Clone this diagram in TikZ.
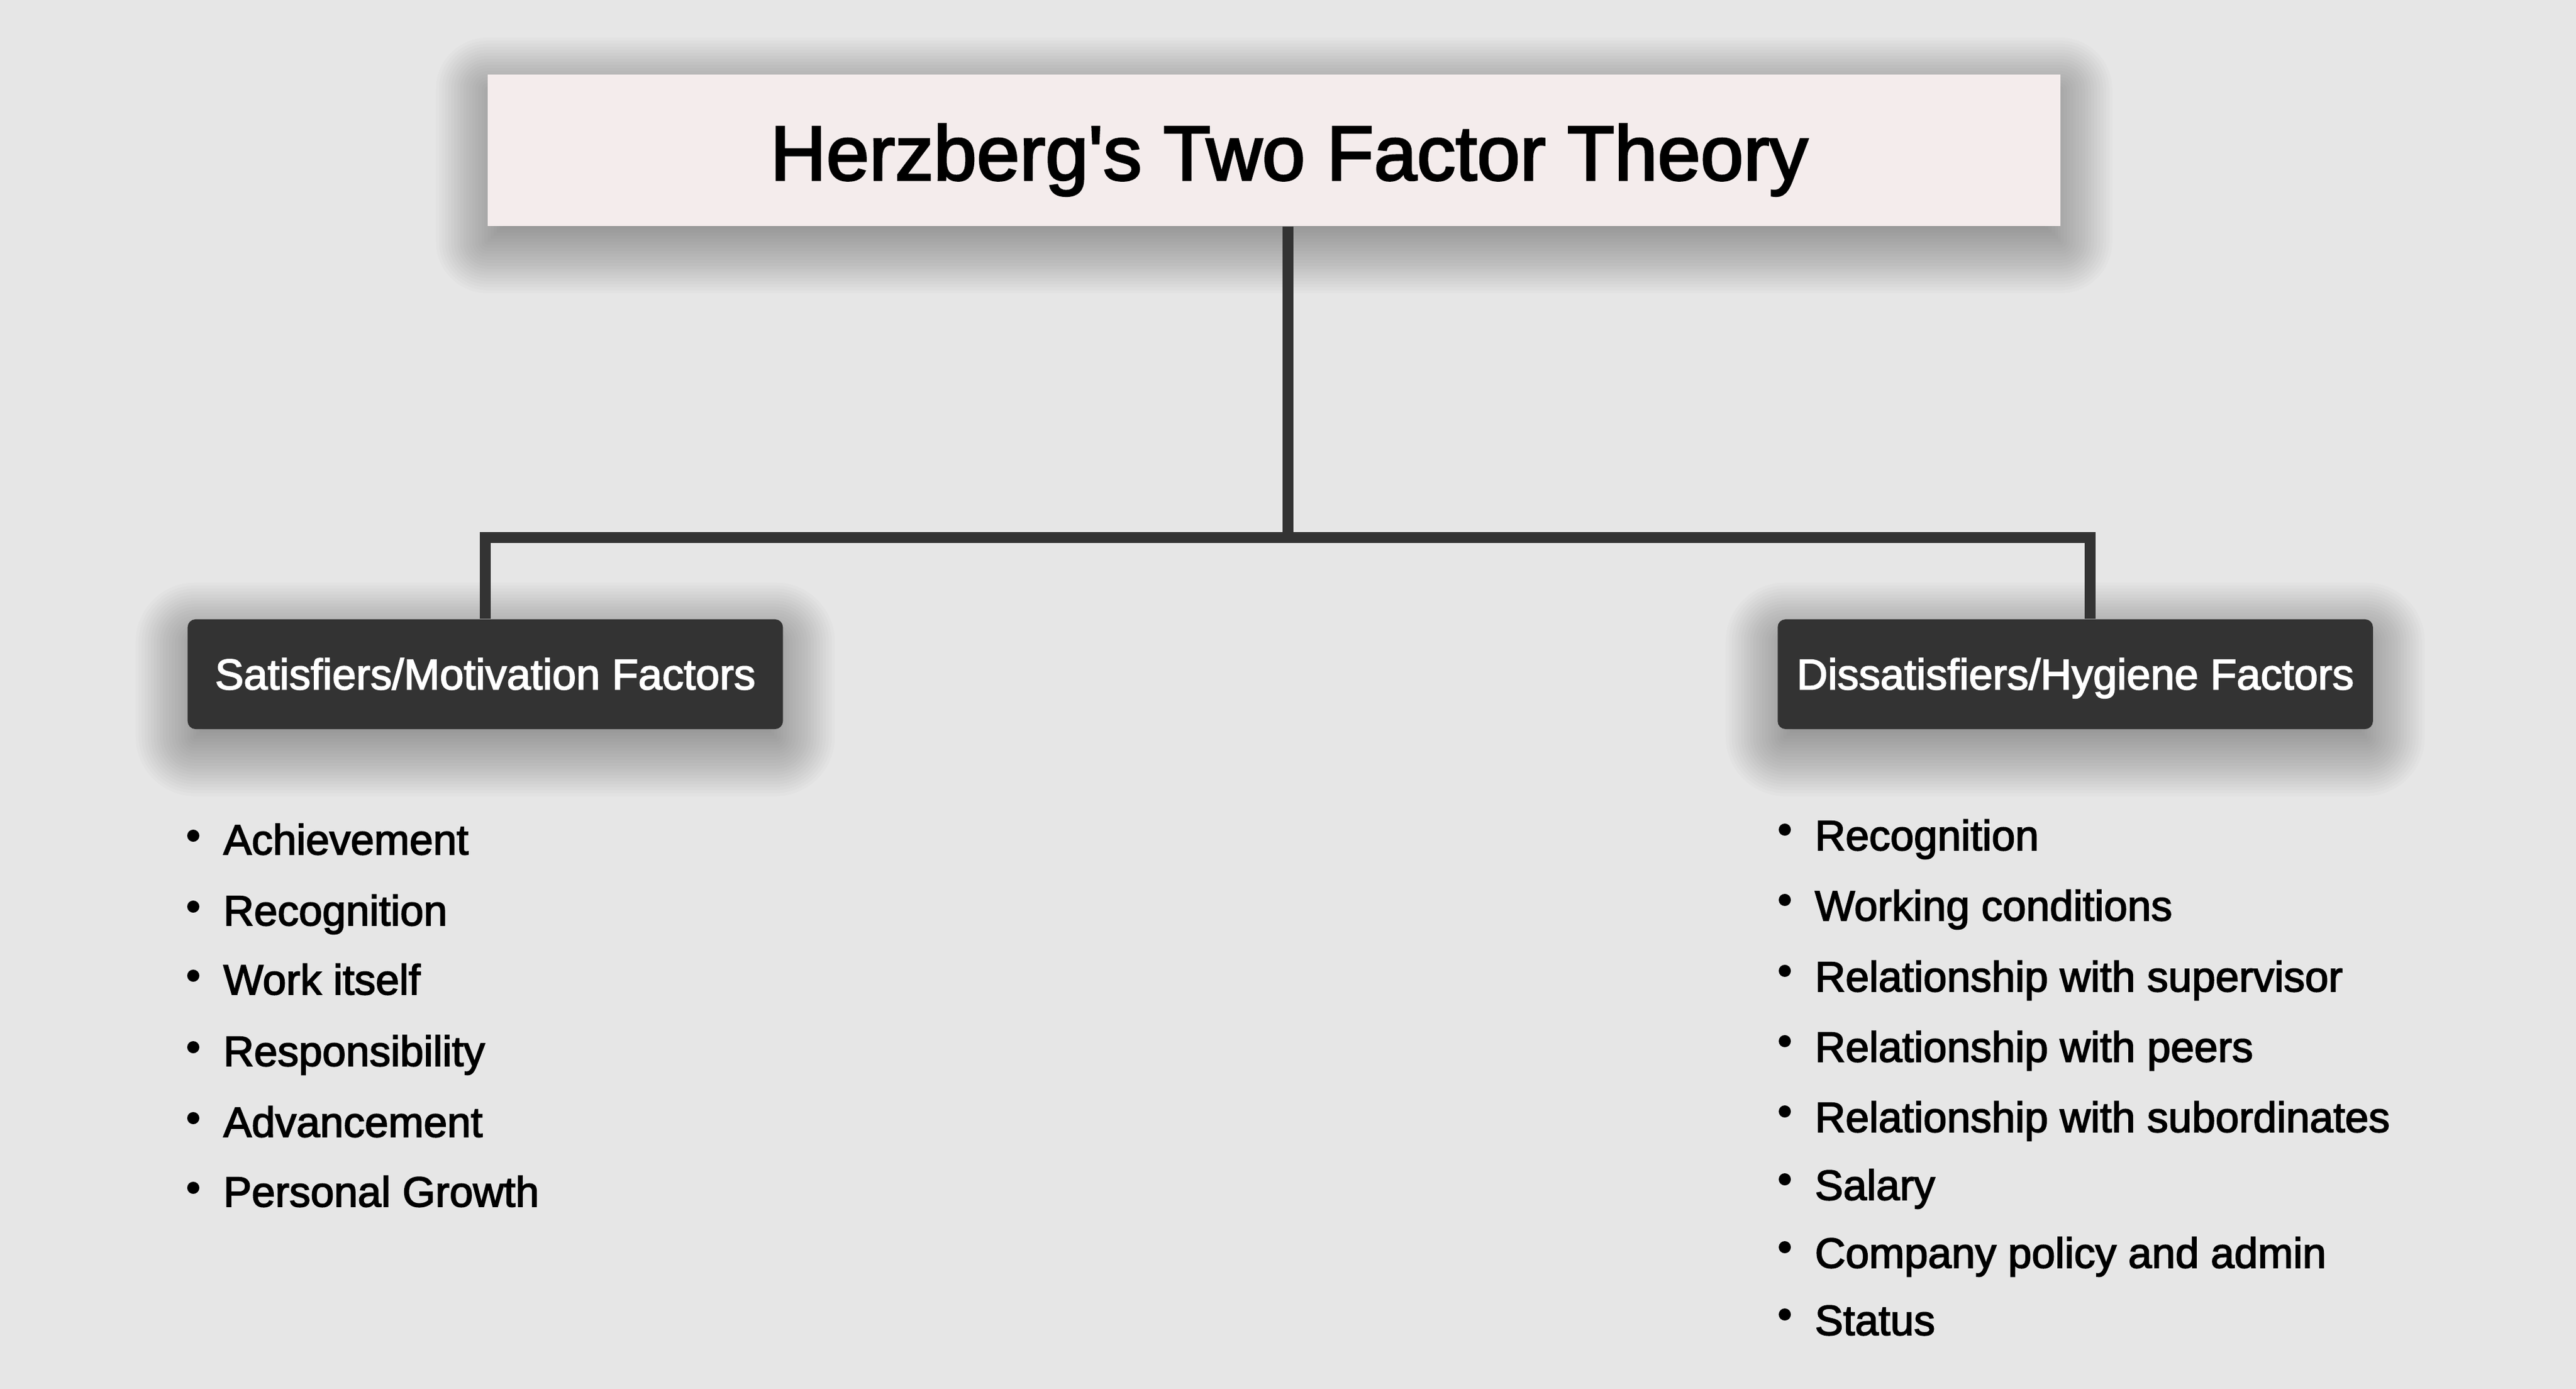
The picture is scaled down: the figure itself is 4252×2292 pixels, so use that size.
\documentclass[tikz,border=0pt]{standalone}
\usepackage{fontspec}
\setmainfont{Liberation Sans}[FakeBold=2.5]
\definecolor{bgc}{HTML}{E6E6E6}
\definecolor{titlefill}{HTML}{F4ECEC}
\definecolor{darkc}{HTML}{333333}
\tikzset{
  px/.style={x=0.01cm,y=-0.01cm},
  titlebox/.style={fill=titlefill, draw=none, minimum width=25.94cm, minimum height=2.5cm, inner sep=0pt},
  catbox/.style={fill=darkc, rounded corners=0.13cm, minimum width=9.82cm, minimum height=1.81cm, inner sep=0pt, text=white, font=\fontsize{20.2}{24}\selectfont, text height=0.5cm, text depth=0cm},
  titletext/.style={font=\fontsize{36.3}{43}\selectfont, text=black, inner sep=0pt, text height=0.92cm, text depth=0cm},
  item/.style={anchor=base west, inner sep=0pt, font=\fontsize{19.9}{24}\selectfont, text=black},
  conn/.style={draw=darkc, line width=0.18cm, line join=miter, line cap=butt},
  dot/.style={circle, fill=black, minimum size=0.2cm, inner sep=0pt},
  shadowlayer/.style={fill=black, opacity=0.014}
}
% soft shadow behind a named node: #1 node name, #2 base corner radius (cm)
\newcommand{\softshadow}[2]{%
  \foreach \k in {0,...,34}{%
    \pgfmathsetmacro{\e}{-0.85+\k*0.05}%
    \pgfmathsetmacro{\rr}{max(0,#2+\e)}%
    \fill[shadowlayer, rounded corners=\rr cm]
      ([xshift=-\e cm, yshift=\e cm-0.25cm]#1.north west) rectangle
      ([xshift=\e cm, yshift=-\e cm-0.25cm]#1.south east);
  }%
}
\begin{document}
\begin{tikzpicture}[px]
\fill[bgc] (0,0) rectangle (4252,2292);
\useasboundingbox (0,0) rectangle (4252,2292);

% placement helpers for the shadows (drawn before the boxes)
\path (2103,248) node[titlebox, fill=none] (tshadow) {};
\path (801,1112.5) node[catbox, fill=none, text=bgc] (sshadow) {\phantom{X}};
\path (3425.5,1112.5) node[catbox, fill=none, text=bgc] (dshadow) {\phantom{X}};
\softshadow{tshadow}{0}
\softshadow{sshadow}{0.13}
\softshadow{dshadow}{0.13}

\node[titlebox] (titlebox) at (2103,248) {};
\node[titletext] (title) at (2128,251) {Herzberg\textquotesingle s Two Factor Theory};

\node[catbox] (sat) at (801,1112.5) {Satisfiers/Motivation Factors};
\node[catbox] (dis) at (3425.5,1112.5) {Dissatisfiers/Hygiene Factors};

\coordinate (jM) at (2126,887);
\coordinate (jL) at (801,887);
\coordinate (jR) at (3450,887);
\draw[conn] (titlebox.south -| jM) -- (jM);
\draw[conn] (sat.north -| jL) -- (jL) -- (jR) -- (dis.north -| jR);

% left list
\foreach \y/\t [count=\i] in {1410/Achievement, 1527/Recognition, 1641/Work itself, 1759/Responsibility, 1876/Advancement, 1991/Personal Growth}{
  \node[dot] (lb\i) at (319,\y-31) {};
  \node[item] (l\i) at (368,\y) {\t};
}
% right list
\foreach \y/\t [count=\i] in {1403/Recognition, 1519/Working conditions, 1636/Relationship with supervisor, 1752/Relationship with peers, 1868/Relationship with subordinates, 1980/Salary, 2092/Company policy and admin, 2203/Status}{
  \node[dot] (rb\i) at (2946,\y-34) {};
  \node[item] (r\i) at (2995,\y) {\t};
}
\end{tikzpicture}
\end{document}
